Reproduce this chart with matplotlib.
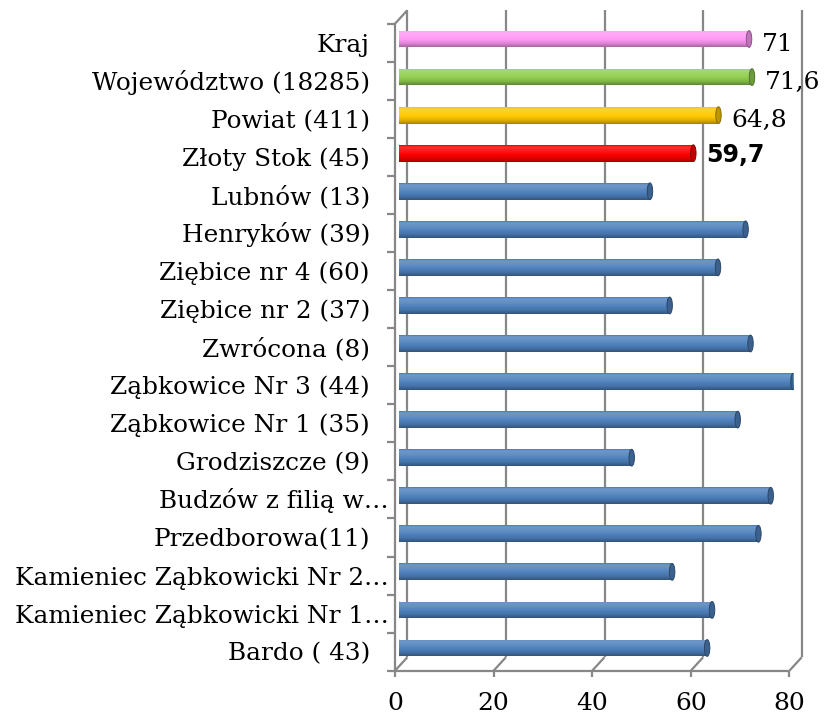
import matplotlib
matplotlib.use("Agg")
import matplotlib.pyplot as plt
import numpy as np
from matplotlib.patches import Ellipse
from matplotlib.transforms import offset_copy

# szkoły i wyniki (od góry do dołu)
categories = ["Kraj", "Województwo (18285)", "Powiat (411)", "Złoty Stok (45)",
              "Lubnów (13)", "Henryków (39)", "Ziębice nr 4 (60)", "Ziębice nr 2 (37)",
              "Zwrócona (8)", "Ząbkowice Nr 3 (44)", "Ząbkowice Nr 1 (35)",
              "Grodziszcze (9)", "Budzów z filią w…", "Przedborowa(11)",
              "Kamieniec Ząbkowicki Nr 2…", "Kamieniec Ząbkowicki Nr 1…", "Bardo ( 43)"]
values = [71, 71.6, 64.8, 59.7, 50.9, 70.3, 64.7, 54.9, 71.3, 80.0, 68.7,
          47.2, 75.4, 72.9, 55.4, 63.5, 62.5]
value_labels = {0: "71", 1: "71,6", 2: "64,8", 3: "59,7"}
bar_colors = ["#FF99F5", "#92D050", "#FFC800", "#FF0000"] + ["#4F81BD"] * 13
x_ticks = [0, 20, 40, 60, 80]

GRID = "#878787"
SERIF = "DejaVu Serif"


def shade(rgb, s):
    rgb = np.asarray(rgb)
    return rgb + (1 - rgb) * s if s > 0 else rgb * (1 + s)


def cylinder_image(color):
    base = np.array(matplotlib.colors.to_rgb(color))
    t = np.linspace(0, 1, 60)
    s = np.interp(t, [0, 0.1, 0.3, 0.55, 0.78, 1], [-0.05, 0.18, 0.12, 0.0, -0.12, -0.35])
    img = np.array([shade(base, k) for k in s])
    return img.reshape(-1, 1, 3), base


fig = plt.figure(figsize=(8.29, 7.14), dpi=100)
W, H = 829, 714
ax = fig.add_axes([399 / W, 1 - 667 / H, 394.4 / W, 647 / H])
ax.axis("off")

n = len(categories)
ypos = np.arange(n)[::-1]
h = 0.44

# płaszczyzna przednia i głębokość ścian (w jednostkach danych)
front = offset_copy(ax.transData, fig, x=-4, y=-3.7, units="dots")
dx, dy = 12.3 / 4.93, 13.4 / 38.06
y0, y1 = -0.5, n - 0.5

line_kw = dict(color=GRID, lw=1.6, transform=front, clip_on=False, solid_capstyle="butt")
# tylne linie siatki
for v in x_ticks:
    ax.plot([v + dx, v + dx], [y0 + dy, y1 + dy], **line_kw)
    ax.plot([v, v + dx], [y0, y0 + dy], **line_kw)
# lewa ściana i podłoga
ax.plot([0, 0], [y0, y1], **line_kw)
ax.plot([0, dx], [y1, y1 + dy], **line_kw)
ax.plot([0, 80], [y0, y0], **line_kw)
for k in range(n + 1):
    ax.plot([-8 / 4.93, 0], [y0 + k, y0 + k], **line_kw)
for v in x_ticks:
    ax.plot([v, v], [y0, y0 - 6 / 38.06], **line_kw)
    ax.annotate(str(v), xy=(v, y0), xycoords=front, xytext=(0, -39),
                textcoords="offset pixels", ha="center", va="baseline",
                fontsize=18, family=SERIF)

# słupki cylindryczne
bars = ax.barh(ypos, values, height=h, color=bar_colors, linewidth=0, zorder=2)
for i, (patch, v, c) in enumerate(zip(bars.patches, values, bar_colors)):
    img, base = cylinder_image(c)
    yc = ypos[i]
    ax.add_patch(Ellipse((0, yc), 1.1, h, fc=shade(base, -0.05), lw=0, zorder=1.5))
    im = ax.imshow(img, extent=(0, v, yc - h / 2, yc + h / 2), aspect="auto",
                   interpolation="bilinear", zorder=3)
    im.set_clip_path(patch)
    ax.add_patch(Ellipse((v, yc), 1.1, h, fc=shade(base, -0.25),
                         ec=shade(base, -0.45), lw=0.7, zorder=4))
    if i in value_labels:
        if i == 3:
            ax.annotate(value_labels[i], xy=(v, yc), xytext=(13, -9),
                        textcoords="offset pixels", va="baseline", ha="left",
                        fontsize=17, fontweight="bold", family="DejaVu Sans")
        else:
            ax.annotate(value_labels[i], xy=(v, yc), xytext=(13, -12),
                        textcoords="offset pixels", va="baseline", ha="left",
                        fontsize=18, family=SERIF)

# etykiety kategorii
for i, name in enumerate(categories):
    off = -6 if name.endswith("…") else -25
    ax.annotate(name, xy=(0, ypos[i]), xycoords=front, xytext=(off, -9),
                textcoords="offset pixels", ha="right", va="baseline",
                fontsize=17.8, family=SERIF)

ax.set_xlim(0, 80)
ax.set_ylim(y0, y1)
fig.savefig("out.png", dpi=100)
